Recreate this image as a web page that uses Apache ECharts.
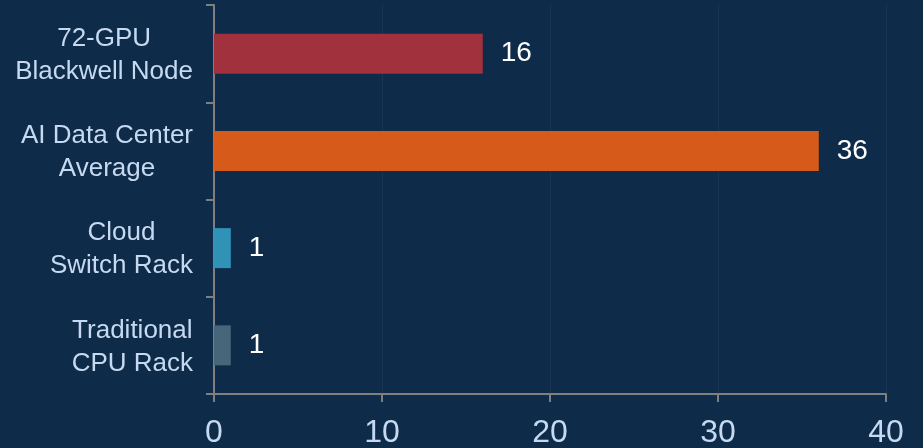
<!DOCTYPE html>
<html>
<head>
<meta charset="utf-8">
<script src="https://cdn.jsdelivr.net/npm/echarts@6/dist/echarts.min.js"></script>
<style>
  html, body { margin: 0; padding: 0; background: #0e2b4a; }
  #chart { width: 923px; height: 448px; }
</style>
</head>
<body>
<div id="chart"></div>
<script>
// Categories listed top to bottom
const categories = [
  '72-GPU\nBlackwell Node',
  'AI Data Center\nAverage',
  'Cloud\nSwitch Rack',
  'Traditional\nCPU Rack'
];
const values = [16, 36, 1, 1];
const barColors = ['#a0313d', '#d65b1b', '#3093b6', '#476679'];
const xTicks = [0, 10, 20, 30, 40];

const FONT = '"Liberation Sans", Arial, sans-serif';
const LABEL_COLOR = '#c6d9f0';
const AXIS_COLOR = '#7f7f7f';

const chart = echarts.init(document.getElementById('chart'), null, { renderer: 'canvas' });

chart.setOption({
  backgroundColor: '#0e2b4a',
  animation: false,
  grid: { left: 214, right: 37, top: 5, bottom: 54, containLabel: false, outerBoundsMode: 'none' },
  xAxis: {
    type: 'value',
    min: xTicks[0],
    max: xTicks[xTicks.length - 1],
    interval: xTicks[1] - xTicks[0],
    axisLine: { show: true, lineStyle: { color: AXIS_COLOR, width: 2 } },
    axisTick: { show: true, length: 8, lineStyle: { color: AXIS_COLOR, width: 2 } },
    splitLine: { show: true, lineStyle: { color: 'rgba(255,255,255,0.05)', width: 1 } },
    axisLabel: {
      color: LABEL_COLOR,
      fontSize: 32,
      fontFamily: FONT,
      margin: 23
    }
  },
  yAxis: {
    type: 'category',
    data: categories,
    inverse: true,
    axisLine: { show: true, lineStyle: { color: AXIS_COLOR, width: 2 } },
    axisTick: { show: true, length: 8, lineStyle: { color: AXIS_COLOR, width: 2 } },
    splitLine: { show: false },
    axisLabel: {
      margin: 21,
      padding: [3, 0, 0, 0],
      formatter: function (v) {
        return v.split('\n').map(function (l) { return '{c|' + l + '}'; }).join('\n');
      },
      rich: {
        c: {
          align: 'center',
          color: LABEL_COLOR,
          fontSize: 26,
          lineHeight: 33,
          fontFamily: FONT
        }
      }
    }
  },
  series: [{
    type: 'bar',
    barWidth: 40,
    data: values.map(function (v, i) {
      return { value: v, itemStyle: { color: barColors[i] } };
    }),
    label: {
      show: true,
      position: 'right',
      distance: 18,
      color: '#ffffff',
      fontSize: 28,
      fontFamily: FONT
    }
  }]
});
</script>
</body>
</html>
